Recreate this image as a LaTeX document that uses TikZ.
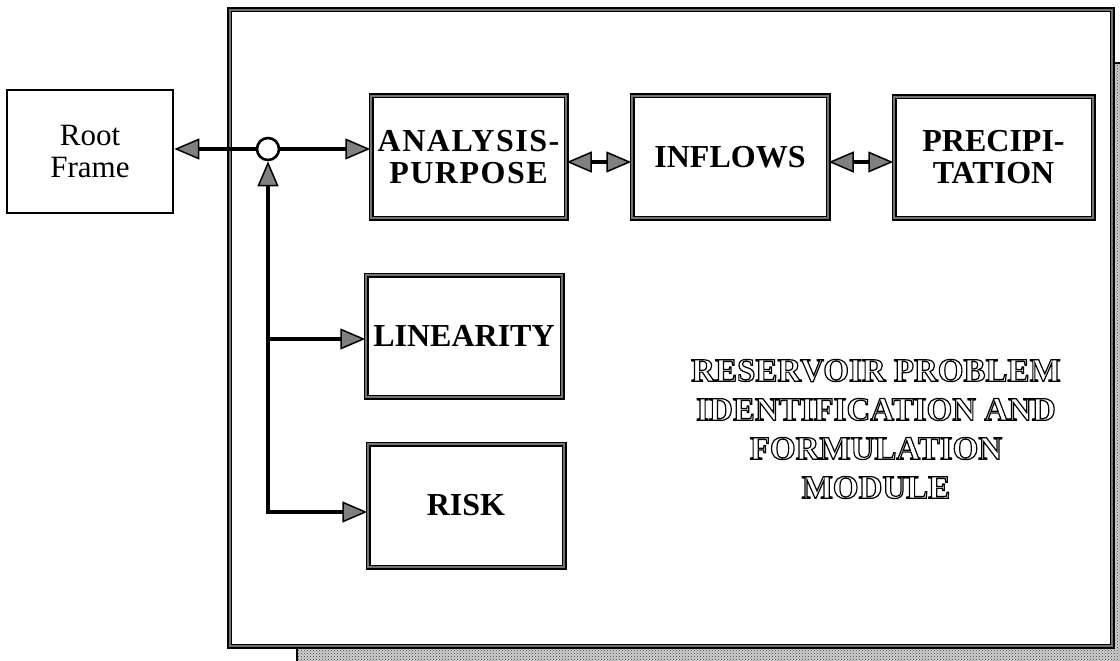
\documentclass[tikz,border=0pt]{standalone}
\usepackage{fontspec}
\setmainfont{Liberation Serif}
\usetikzlibrary{arrows.meta,patterns}

\tikzset{
  gtri/.tip={Triangle[length=25pt,width=21pt,line width=1.5pt,fill=black!50]},
  panel/.style={draw=black, line width=1.5pt, double=black!55, double distance=2pt},
  module/.style={panel, fill=white, inner sep=0pt, align=center,
    font=\bfseries\fontsize{32}{32}\selectfont},
  conn/.style={draw=black, line width=3.2pt, line join=miter},
  arr/.style={conn, -gtri},
  darr/.style={conn, gtri-gtri},
  titlefont/.style={align=center, inner sep=0pt,
    font=\bfseries\fontsize{33}{39}\selectfont}
}
% outlined lettering (text rendering mode 1: stroke only)
\newcommand{\engraved}[1]{\special{pdf:literal direct 1 Tr 1.2 w}#1\special{pdf:literal direct 0 Tr}}

\begin{document}
\begin{tikzpicture}[x=1pt,y=-1pt]
\useasboundingbox (0,0) rectangle (1120,661);

% dotted drop shadow of the module frame
\draw[line width=2.5pt, fill=gray!35,
      postaction={pattern=crosshatch dots, pattern color=black!80}]
  (297,63) rectangle (1135,690);
% module frame
\draw[panel, fill=white] (229.5,10) rectangle (1112,646);

% root frame
\node[draw=black, line width=2.6pt, fill=white, minimum width=166pt, minimum height=123pt,
      inner sep=0pt, align=center, font=\fontsize{31}{32}\selectfont]
  (root) at (90,151.5) {Root\\Frame};

% sub-frames
\node[module, minimum width=195pt, minimum height=122pt,
      font=\bfseries\fontsize{32}{32}\selectfont\addfontfeatures{LetterSpace=4.7}]
  (ana) at (468.5,157) {ANALYSIS-\\PURPOSE};
\node[module, minimum width=196pt, minimum height=122pt] (inf) at (730,157) {INFLOWS};
\node[module, minimum width=199pt, minimum height=121pt] (pre) at (993.5,157.5) {PRECIPI-\\TATION};
\node[module, minimum width=196pt, minimum height=122pt] (lin) at (464,336) {LINEARITY};
\node[module, minimum width=196pt, minimum height=123pt] (risk) at (466,505.5) {RISK};

% junction
\node[circle, draw=black, line width=2.6pt, fill=white, minimum size=22pt, inner sep=0pt]
  (hub) at (268,149) {};
\coordinate (tapL) at (268,339);
\coordinate (tapR) at (268,512);

% connectors
\draw[arr] (hub.west) -- (hub.west -| root.east);
\draw[arr] (hub.east) -- (hub.east -| ana.west);
\draw[conn, gtri-gtri] (hub.south) -- (tapR) -- (tapR -| risk.west);
\draw[arr] (tapL) -- (tapL -| lin.west);
\draw[darr] ([yshift=-5pt]ana.east) -- ([yshift=-5pt]ana.east -| inf.west);
\draw[darr] ([yshift=-5pt]inf.east) -- ([yshift=-5pt]inf.east -| pre.west);

% engraved module title
\node[titlefont] (title) at (876,429)
  {\engraved{RESERVOIR PROBLEM}\\\engraved{IDENTIFICATION AND}\\
   \engraved{FORMULATION}\\\engraved{MODULE}};
\end{tikzpicture}
\end{document}
